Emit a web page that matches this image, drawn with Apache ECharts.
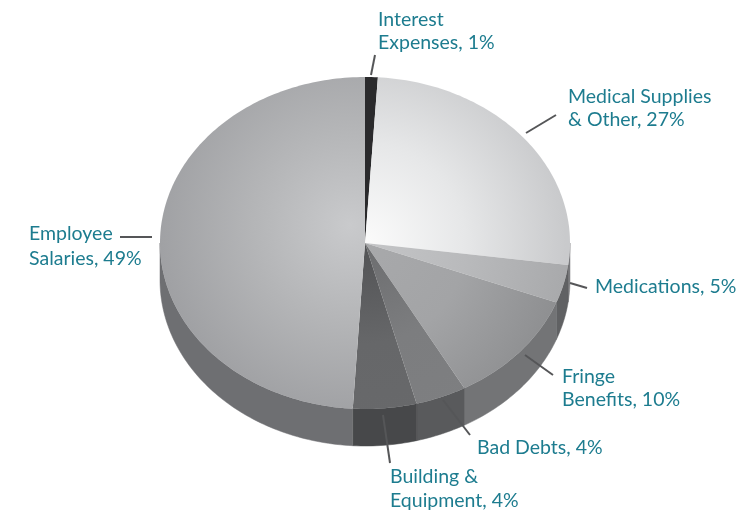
<!DOCTYPE html>
<html><head><meta charset="utf-8">
<style>html,body{margin:0;padding:0;background:#fff}#c{width:738px;height:511px}</style>
<script src="https://cdn.jsdelivr.net/npm/echarts@6/dist/echarts.min.js"></script>
</head><body><div id="c"></div>
<script>
const categories = ['Interest\nExpenses','Medical Supplies\n& Other','Medications','Fringe\nBenefits','Bad Debts','Building &\nEquipment','Employee\nSalaries'];
// Percentages as printed on the labels.
const values = [1,27,5,10,4,4,49];
// Share of the circle each slice actually occupies in the drawing.
const drawnShares = [1,26.1,3.7,11.1,4,5,49];

const CX=365, CY=243, RX=205, RY=166, DEPTH=37;
const TEAL='#1d7c8f';
const topFill=[
 {stops:['#2a2a2c','#161618'],type:'flat'},
 {stops:['#fbfbfb','#e6e7e8','#c9cacc'],type:'r'},
 {stops:['#c4c5c7','#b9babc','#a9aaac'],type:'r'},
 {stops:['#a8a9ab','#a3a4a6','#8e8f91'],type:'r'},
 {stops:['#6c6d6f','#7c7d7f','#7e7f81'],type:'r'},
 {stops:['#525355','#666769','#68696b'],type:'r'},
 {stops:['#c9cacc','#b4b5b7','#9fa0a3'],type:'e'}
];
const wallFill=['#333','#7a7b7d','#606163','#737476','#595a5c','#47484a','#6e6f72'];
const labelLineHeight=[23,23,23,23,23,24,25];

function fill(f){
  const cs=f.stops.map((c,i)=>({offset:i/(f.stops.length-1),color:c}));
  if(f.type==='flat') return f.stops[0];
  if(f.type==='r') return {type:'radial',x:CX,y:CY,r:RX*0.98,global:true,colorStops:cs};
  return {type:'radial',x:350,y:225,r:195,global:true,colorStops:cs};
}
const total=drawnShares.reduce((a,b)=>a+b,0);
function pt(a,d){return [CX+RX*Math.sin(a),CY-RY*Math.cos(a)+(d||0)];}
function arc(a0,a1,d){const n=Math.max(2,Math.ceil((a1-a0)/0.02)),p=[];
  for(let i=0;i<=n;i++)p.push(pt(a0+(a1-a0)*i/n,d));return p;}

function renderItem(params,api){
  const i=params.dataIndex;
  let before=0; for(let k=0;k<i;k++)before+=drawnShares[k];
  const a0=before/total*2*Math.PI, a1=(before+api.value(1))/total*2*Math.PI;
  const children=[];
  const w0=Math.max(a0,Math.PI/2), w1=Math.min(a1,Math.PI*1.5);
  if(w1>w0){
    children.push({type:'polygon',shape:{points:arc(w0,w1,0).concat(arc(w0,w1,DEPTH).reverse())},
      style:{fill:wallFill[i],stroke:wallFill[i],lineWidth:.5}});
  }
  children.push({type:'polygon',shape:{points:[[CX,CY]].concat(arc(a0,a1,0))},
    style:{fill:fill(topFill[i]),stroke:null}});
  return {type:'group',children};
}

const labelAt=[[378,8],[568,85],[595,275],[562,365],[477,436],[390,465],[29,221]];
const leaders=[
 [[375,55],[371,75]],[[526,133],[556,115]],[[570,283],[587,288]],
 [[525,355],[553,375]],[[443,400],[470,435]],[[383,415],[390,463]],[[120,237],[152,237]]
];
const graphic=[];
leaders.forEach(l=>graphic.push({type:'line',z:10,shape:{x1:l[0][0],y1:l[0][1],x2:l[1][0],y2:l[1][1]},
  style:{stroke:'#555658',lineWidth:2}}));
categories.forEach((c,i)=>graphic.push({type:'text',z:11,x:labelAt[i][0],y:labelAt[i][1],
  style:{text:c+', '+values[i]+'%',fill:TEAL,font:'19.5px Lato, "Open Sans", sans-serif',lineHeight:labelLineHeight[i]}}));

const chart=echarts.init(document.getElementById('c'),null,{renderer:'canvas'});
chart.setOption({
  animation:false,backgroundColor:'#fff',
  series:[{type:'custom',coordinateSystem:'none',silent:true,renderItem,
    data:values.map((v,i)=>[v,drawnShares[i]])}],
  graphic
});
</script></body></html>
